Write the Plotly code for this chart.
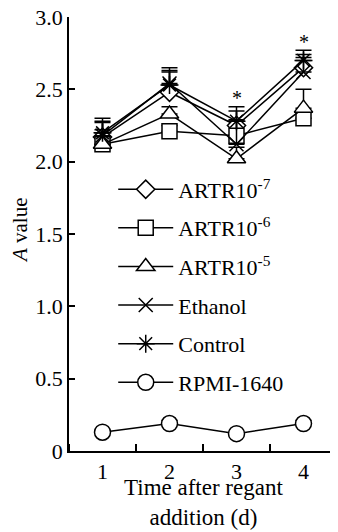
import plotly.graph_objects as go

days = [1, 2, 3, 4]
series_names = ["ARTR10<sup>-7</sup>", "ARTR10<sup>-6</sup>", "ARTR10<sup>-5</sup>",
                "Ethanol", "Control", "RPMI-1640"]
artr7 = [2.17, 2.48, 2.25, 2.65]
artr7_err = [0.10, 0.14, 0.10, 0.09]
artr6 = [2.12, 2.21, 2.18, 2.30]
artr6_err = [0.08, 0.04, 0.10, 0.04]
artr5 = [2.12, 2.33, 2.02, 2.37]
artr5_err = [0.10, 0.05, 0.08, 0.13]
ethanol = [2.18, 2.54, 2.12, 2.62]
ethanol_err = [0.10, 0.09, 0.17, 0.10]
control = [2.20, 2.53, 2.28, 2.70]
control_err = [0.10, 0.12, 0.10, 0.07]
rpmi = [0.13, 0.19, 0.12, 0.19]
rpmi_err = [0.01, 0.02, 0.01, 0.02]
sig_days = [3, 4]
sig_y = [2.44, 2.83]
y_ticks = [0, 0.5, 1.0, 1.5, 2.0, 2.5, 3.0]
y_ticktext = ["0", "0.5", "1.0", "1.5", "2.0", "2.5", "3.0"]

values = [artr7, artr6, artr5, ethanol, control, rpmi]
errors = [artr7_err, artr6_err, artr5_err, ethanol_err, control_err, rpmi_err]
symbols = ["diamond", "square", "triangle-up", "x-thin-open", "asterisk-open", "circle"]
fills = ["white", "white", "white", "black", "black", "white"]
sizes = [14, 15, 16, 14, 15, 16]

FONT = "Liberation Serif, Times New Roman, serif"
FS = 22
fig = go.Figure()
for i, (name, v, e) in enumerate(zip(series_names, values, errors)):
    fig.add_trace(go.Scatter(
        x=days, y=v, name=name, mode="lines+markers", legendgroup=str(i),
        line=dict(color="black", width=1.5),
        marker=dict(symbol=symbols[i], size=sizes[i], color=fills[i],
                    line=dict(color="black", width=1.5)),
        error_y=dict(type="data", array=e, arrayminus=[0] * len(e), symmetric=False,
                     color="black", thickness=1.5, width=8),
    ))

for d, y in zip(sig_days, sig_y):
    fig.add_annotation(x=d, y=y, text="*", showarrow=False,
                       font=dict(family=FONT, size=20, color="black"))

fig.add_annotation(x=0.5, y=-0.118, xref="paper", yref="paper", showarrow=False,
                   xanchor="center", yanchor="middle",
                   text="Time after regant<br>addition (d)",
                   font=dict(family=FONT, size=23, color="black"))
fig.add_annotation(x=-0.185, y=0.51, xref="paper", yref="paper", showarrow=False,
                   xanchor="center", yanchor="middle", textangle=-90,
                   text="<i>A</i> value",
                   font=dict(family=FONT, size=21, color="black"))

fig.update_layout(
    width=330, height=524,
    margin=dict(l=61, r=1, t=9, b=81),
    paper_bgcolor="white", plot_bgcolor="white",
    font=dict(family=FONT, size=FS, color="black"),
    showlegend=True,
    legend=dict(x=0.165, y=0.651, xanchor="left", yanchor="top",
                bgcolor="rgba(0,0,0,0)", font=dict(family=FONT, size=FS),
                tracegroupgap=7, itemwidth=55),
)
fig.update_xaxes(
    range=[0.5, 4.5], tickvals=days, ticktext=[str(d) for d in days], ticks="",
    showline=True, linecolor="black", linewidth=1.5, showgrid=False, zeroline=False,
    minor=dict(ticks="inside", tick0=0.5, dtick=1, ticklen=7, tickcolor="black",
               tickwidth=1.5, showgrid=False),
    tickfont=dict(family=FONT, size=FS), automargin=False, ticklabeloverflow="allow",
)
fig.update_yaxes(
    range=[0, 3.0], tickvals=y_ticks, ticktext=y_ticktext, ticks="inside", ticklen=6,
    tickwidth=1.5, tickcolor="black",
    showline=True, linecolor="black", linewidth=1.5, showgrid=False, zeroline=False,
    tickfont=dict(family=FONT, size=FS), automargin=False, ticklabeloverflow="allow",
)
fig.write_html("out.html")
